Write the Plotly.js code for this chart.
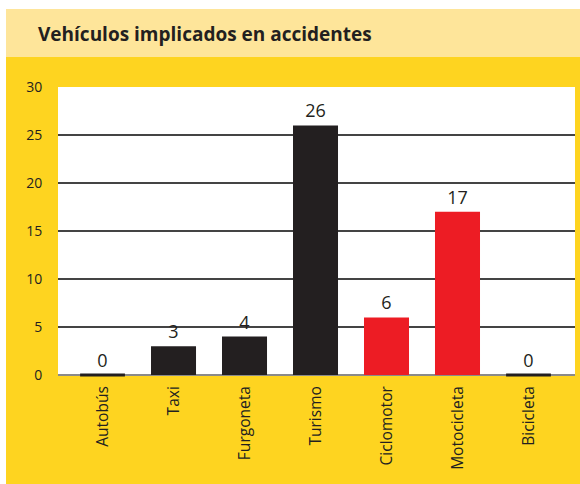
<!DOCTYPE html>
<html>
<head>
<meta charset="utf-8">
<script src="https://cdn.plot.ly/plotly-3.0.1.min.js"></script>
<style>html,body{margin:0;padding:0;background:#fff;}#chart{width:580px;height:484px;}</style>
</head>
<body>
<div id="chart"></div>
<script>
const categories = ["Autobús", "Taxi", "Furgoneta", "Turismo", "Ciclomotor", "Motocicleta", "Bicicleta"];
const values = [0, 3, 4, 26, 6, 17, 0];
const barColors = ["#231f20", "#231f20", "#231f20", "#231f20", "#ed1c24", "#ed1c24", "#231f20"];
const yTicks = [0, 5, 10, 15, 20, 25, 30];
const titleText = "Vehículos implicados en accidentes";

const W = 580, H = 484;
const mL = 58, mR = 5, mT = 87, mB = 109;
const pw = W - mL - mR, ph = H - mT - mB;
const px = v => (v - mL) / pw;
const py = v => (H - mB - v) / ph;

const zeroCats = categories.filter((c, i) => values[i] === 0);
const zeroVals = values.filter(v => v === 0);
const zeroCols = barColors.filter((c, i) => values[i] === 0);

const traces = [
  {
    type: "bar",
    x: categories,
    y: values,
    marker: {color: barColors},
    text: values.map(String),
    textposition: "outside",
    textfont: {family: "Open Sans", size: 18, color: "#231f20"},
    cliponaxis: false,
    hoverinfo: "x+y"
  },
  {
    type: "scatter",
    mode: "markers",
    x: zeroCats,
    y: zeroVals,
    marker: {symbol: "line-ew", size: 32, line: {width: 3, color: zeroCols}},
    cliponaxis: false,
    hoverinfo: "x+y"
  }
];

const layout = {
  width: W, height: H,
  margin: {l: mL, r: mR, t: mT, b: mB, pad: 0},
  paper_bgcolor: "#fed420",
  plot_bgcolor: "#ffffff",
  showlegend: false,
  bargap: 0.366,
  font: {family: "Open Sans", color: "#231f20"},
  title: {
    text: titleText,
    font: {family: "Open Sans", size: 19, weight: 700, color: "#231f20"},
    x: 38 / W, xanchor: "left",
    y: 1 - 34 / H, yanchor: "middle"
  },
  xaxis: {
    type: "category",
    range: [-0.627, 6.655],
    tickangle: -90,
    ticks: "outside",
    ticklen: 4,
    tickcolor: "rgba(0,0,0,0)",
    tickfont: {family: "Open Sans", size: 15.5, color: "#231f20"},
    showgrid: false,
    zeroline: false,
    showline: false,
    fixedrange: true
  },
  yaxis: {
    range: [0, 30],
    tickvals: yTicks,
    ticktext: yTicks.map(String),
    ticks: "outside",
    ticklen: 12,
    tickcolor: "rgba(0,0,0,0)",
    tickfont: {family: "Open Sans", size: 14, color: "#231f20"},
    showgrid: true,
    gridcolor: "#444444",
    gridwidth: 1.3,
    zeroline: true,
    zerolinecolor: "#8a8a8a",
    zerolinewidth: 2.5,
    showline: false,
    fixedrange: true
  },
  shapes: [
    {type: "rect", xref: "paper", yref: "paper", x0: px(0), x1: px(W), y0: py(0), y1: py(9), fillcolor: "#ffffff", line: {width: 0}, layer: "below"},
    {type: "rect", xref: "paper", yref: "paper", x0: px(0), x1: px(6), y0: py(0), y1: py(H), fillcolor: "#ffffff", line: {width: 0}, layer: "below"},
    {type: "rect", xref: "paper", yref: "paper", x0: px(6), x1: px(W), y0: py(9), y1: py(57), fillcolor: "#fee59a", line: {width: 0}, layer: "below"}
  ]
};

Plotly.newPlot("chart", traces, layout, {displayModeBar: false, staticPlot: true});
</script>
</body>
</html>
